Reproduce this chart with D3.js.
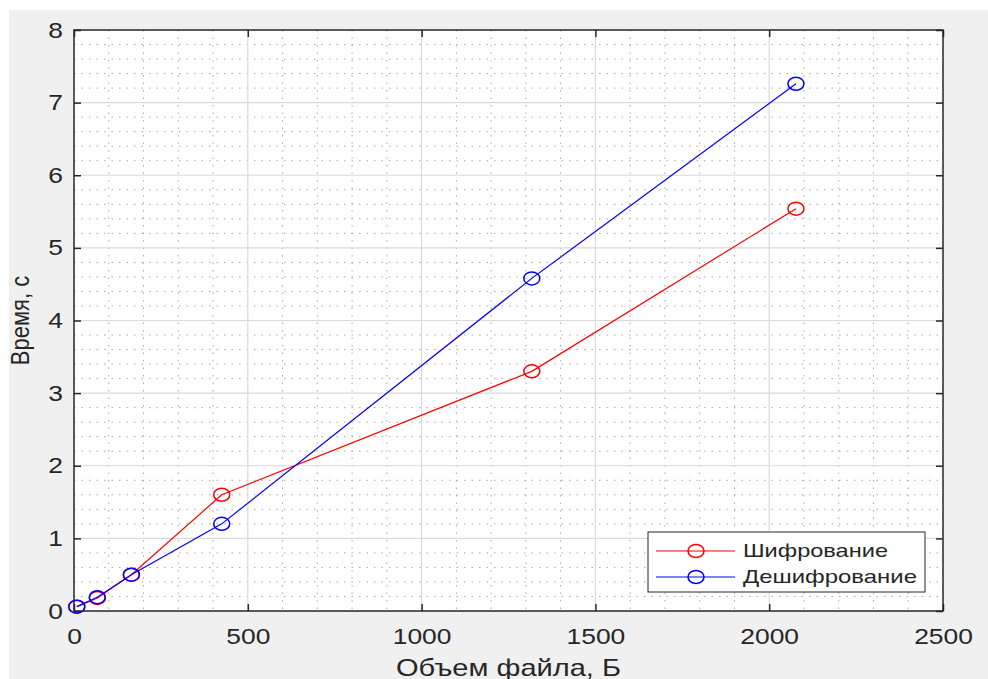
<!DOCTYPE html>
<html>
<head>
<meta charset="utf-8">
<style>
  body { margin: 0; background: #fff; }
  text { font-family: "Liberation Sans", Arial, sans-serif; fill: #262626; }
</style>
</head>
<body>
<svg width="988" height="679"></svg>
<script src="https://d3js.org/d3.v7.min.js"></script>
<script>
// file sizes (bytes) and times (s)
var sizes = [8, 67, 165, 425, 1317, 2077];
var encTime = [0.06, 0.18, 0.50, 1.60, 3.30, 5.54];
var decTime = [0.06, 0.19, 0.50, 1.20, 4.58, 7.26];
var seriesNames = ["Шифрование", "Дешифрование"];
var seriesColors = ["#ff0000", "#0000ff"];
var xTicks = [0, 500, 1000, 1500, 2000, 2500];
var yTicks = [0, 1, 2, 3, 4, 5, 6, 7, 8];

var svg = d3.select("svg");
var pl = 74, pr = 943, pt = 30, pb = 611;
var sx = 1.2; // the picture is a bit wider than tall, text too

// grey figure background
svg.append("rect").attr("x", 9).attr("y", 10).attr("width", 979).attr("height", 669)
    .attr("fill", "#f0f0f0");
svg.append("rect").attr("x", pl).attr("y", pt)
    .attr("width", pr - pl).attr("height", pb - pt).attr("fill", "#fff");

var x = d3.scaleLinear().domain([0, 2500]).range([pl, pr]);
var y = d3.scaleLinear().domain([0, 8]).range([pb, pt]);

// minor grid (dotted)
var g = svg.append("g");
g.selectAll(".mx").data(d3.range(0, 2501, 100).filter(function(d){ return d % 500; }))
  .enter().append("line")
    .attr("x1", function(d){ return x(d); }).attr("x2", function(d){ return x(d); })
    .attr("y1", pt).attr("y2", pb)
    .attr("stroke", "#a8a8a8").attr("stroke-dasharray", "1.5,6").attr("stroke-width", 1);
g.selectAll(".my").data(d3.range(0, 40).map(function(i){ return i * 0.2; }).filter(function(d, i){ return i % 5; }))
  .enter().append("line")
    .attr("y1", function(d){ return y(d); }).attr("y2", function(d){ return y(d); })
    .attr("x1", pl).attr("x2", pr)
    .attr("stroke", "#a8a8a8").attr("stroke-dasharray", "1.5,6").attr("stroke-width", 1);

// major grid
g.selectAll(".gx").data(xTicks.slice(1, -1)).enter().append("line")
    .attr("x1", function(d){ return x(d); }).attr("x2", function(d){ return x(d); })
    .attr("y1", pt).attr("y2", pb).attr("stroke", "#dadada").attr("stroke-width", 1.2);
g.selectAll(".gy").data(yTicks.slice(1, -1)).enter().append("line")
    .attr("y1", function(d){ return y(d); }).attr("y2", function(d){ return y(d); })
    .attr("x1", pl).attr("x2", pr).attr("stroke", "#dadada").attr("stroke-width", 1.2);

// axes with inward ticks
var axisColor = "#262626";
function styleAxis(sel) {
  sel.select(".domain").remove();
  sel.selectAll(".tick line").attr("stroke", axisColor).attr("stroke-width", 1.5);
  sel.selectAll(".tick text").attr("font-size", 22).attr("fill", axisColor)
     .style("font-family", "'Liberation Sans', Arial, sans-serif")
     .attr("x", function(){ return (+d3.select(this).attr("x") || 0) / sx; })
     .attr("transform", "scale(" + sx + ",1)");
}
svg.append("g").attr("transform", "translate(0," + pb + ")")
  .call(d3.axisBottom(x).tickValues(xTicks).tickFormat(d3.format("d")).tickSizeInner(-7).tickPadding(17))
  .call(styleAxis);
svg.append("g").attr("transform", "translate(" + pl + ",0)")
  .call(d3.axisLeft(y).tickValues(yTicks).tickSizeInner(-7).tickPadding(11))
  .call(styleAxis);
// opposite side ticks
svg.append("g").attr("transform", "translate(0," + pt + ")")
  .call(d3.axisTop(x).tickValues(xTicks).tickSizeInner(-7).tickFormat(""))
  .call(styleAxis);
svg.append("g").attr("transform", "translate(" + pr + ",0)")
  .call(d3.axisRight(y).tickValues(yTicks).tickSizeInner(-7).tickFormat(""))
  .call(styleAxis);

// box
svg.append("rect").attr("x", pl).attr("y", pt)
    .attr("width", pr - pl).attr("height", pb - pt)
    .attr("fill", "none").attr("stroke", axisColor).attr("stroke-width", 1.5);

// series
var series = [encTime, decTime];
var line = d3.line().x(function(d){ return x(d[0]); }).y(function(d){ return y(d[1]); });
series.forEach(function(vals, k) {
  var pts = sizes.map(function(s, i){ return [s, vals[i]]; });
  svg.append("path").datum(pts).attr("d", line)
    .attr("fill", "none").attr("stroke", seriesColors[k]).attr("stroke-width", 1.2);
  svg.append("g").selectAll("ellipse").data(pts).enter().append("ellipse")
    .attr("cx", function(d){ return x(d[0]); }).attr("cy", function(d){ return y(d[1]); })
    .attr("rx", 8).attr("ry", 6.5)
    .attr("fill", "none").attr("stroke", seriesColors[k]).attr("stroke-width", 1.5);
});

// axis labels
svg.append("text").attr("x", (pl + pr) / 2).attr("y", 676)
    .attr("text-anchor", "middle").attr("font-size", 24)
    .attr("textLength", 225).attr("lengthAdjust", "spacingAndGlyphs").text("Объем файла, Б");
svg.append("text").attr("transform", "translate(29," + ((pt + pb) / 2) + ") scale(" + sx + ",1) rotate(-90)")
    .attr("text-anchor", "middle").attr("font-size", 22).text("Время, с");

// legend
var lg = svg.append("g");
lg.append("rect").attr("x", 648).attr("y", 532).attr("width", 277).attr("height", 60)
    .attr("fill", "#fff").attr("stroke", axisColor).attr("stroke-width", 1);
var legendWidths = [145, 174];
seriesNames.forEach(function(name, k) {
  var ly = 551 + k * 26;
  lg.append("line").attr("x1", 656).attr("x2", 735).attr("y1", ly).attr("y2", ly)
    .attr("stroke", seriesColors[k]).attr("stroke-width", 1.2);
  lg.append("ellipse").attr("cx", 696).attr("cy", ly).attr("rx", 8).attr("ry", 6.5)
    .attr("fill", "none").attr("stroke", seriesColors[k]).attr("stroke-width", 1.5);
  lg.append("text").attr("x", 743).attr("y", ly + 6).attr("font-size", 19)
    .attr("textLength", legendWidths[k]).attr("lengthAdjust", "spacingAndGlyphs").text(name);
});
</script>
</body>
</html>
